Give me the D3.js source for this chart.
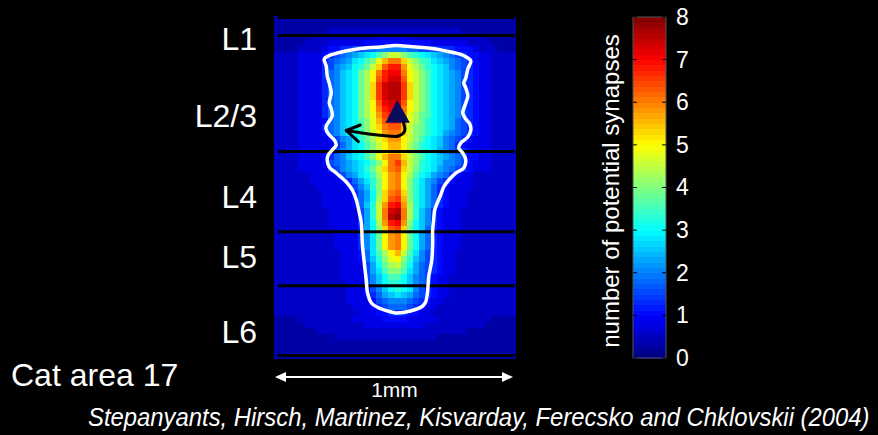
<!DOCTYPE html>
<html>
<head>
<meta charset="utf-8">
<script src="https://cdnjs.cloudflare.com/ajax/libs/d3/7.8.5/d3.min.js"></script>
<style>
body { margin: 0; background: #000; }
svg { display: block; }
text { font-family: "Liberation Sans", Arial, sans-serif; fill: #fff; }
</style>
</head>
<body>
<svg id="chart" width="878" height="435"></svg>
<script>
// each char is one cell, value = index in levelChars / 4  (0 .. 8 potential synapses)
var levelChars = "0123456789abcdefghijklmnopqrstuvw";

// 40 columns x 57 rows, one row = 0.025 mm of depth
var densityRows = [
    "1111111111111111111111111111111111111111",
    "1111111111111111111111111111111111111111",
    "1111111112222222222222222222222111111111",
    "1111112222222222233333322222222222211111",
    "1111122223333334444444444433333322221111",
    "1111222234455667788888776665554443222111",
    "22223333" + "456789abcegi" + "igedcba98765" + "44332222",
    "22223333" + "56789bcegjmo" + "oligedba9876" + "54332222",
    "22223333" + "5689acdfilpr" + "rnjhfdcba876" + "54332222",
    "22223333" + "578abcfhkors" + "sokigecba986" + "54332222",
    "22223333" + "578abcfhkprt" + "tpkigecba986" + "54332222",
    "22223333" + "578abcfhlqtu" + "uqligecba986" + "54332222",
    "22223333" + "578abcfhlqtu" + "uqligecba986" + "54332222",
    "22223333" + "578abcfhlqtu" + "uqligecba986" + "54332222",
    "22223333" + "578abcfhkpst" + "tpkigecba986" + "54332222",
    "22223333" + "578abcfhkors" + "sokigecba986" + "54332222",
    "22223333" + "578abcfhjnqr" + "rnjhfecba986" + "54332222",
    "22223333" + "478abcegjmpq" + "qmjhfdcba976" + "54332222",
    "22223333" + "578abcegjlop" + "pmigfdcba976" + "54332222",
    "22223333" + "478abcegikno" + "oligfdcb9876" + "54332222",
    "22223333" + "34689bdfhjln" + "nkigecba8765" + "43332222",
    "22223333" + "33579bcegikm" + "mkhfdcba8754" + "33332222",
    "22223333" + "34689bcegikm" + "mkhfdcb98765" + "43332222",
    "22223333" + "4578abcegjmo" + "oligecba9876" + "44332222",
    "22223333" + "46789abcegko" + "qmigdcba8876" + "43332222",
    "22223333" + "35689abdfilo" + "plifdcb98765" + "43332222",
    "22222233" + "334689bcehkn" + "okhecb987543" + "32222222",
    "22222233" + "3334579bdgkn" + "okgdb9865433" + "32222222",
    "22222223" + "3333468adgkn" + "okgdb9754333" + "32222222",
    "22222222" + "33333579cglo" + "plgdb9754333" + "22222222",
    "22222222" + "33333479chlp" + "qmgdb9754333" + "22222222",
    "22222222" + "3333347adinr" + "snhdb9754333" + "22222222",
    "22222222" + "23333369diot" + "uohda8543332" + "22222222",
    "22222222" + "23333369diou" + "vohda8543332" + "22222222",
    "22222222" + "23333359chnr" + "sngca8543332" + "22222222",
    "22222222" + "22333359cglp" + "qlfca7543332" + "22222222",
    "22222222" + "22333358bfkn" + "okfc97543332" + "22222222",
    "22222222" + "22333358bfkn" + "okfc97543332" + "22222222",
    "22222222" + "22333358bfkn" + "okfc97543332" + "22222222",
    "22222222" + "22233347behk" + "mieb86543322" + "22222222",
    "22222222" + "22233347adgj" + "kgda86543322" + "22222222",
    "22222222" + "222333369cfh" + "ifc976543322" + "22222222",
    "22222222" + "222333369beg" + "geb976543322" + "22222222",
    "22222222" + "222333368ace" + "eca876433222" + "22222222",
    "22222222" + "222233368acd" + "dca876433222" + "22222222",
    "22222222" + "2222333468ac" + "dcb865433222" + "22222222",
    "22222222" + "22223334579a" + "ba9765433222" + "22222222",
    "22222222" + "222233334678" + "887654332222" + "22222222",
    "22222222" + "222223334567" + "776543322222" + "22222222",
    "22222222" + "222222333445" + "554433222222" + "22222222",
    "1111222222222333334444333332222222221111",
    "1111122222222223333333333222222222211111",
    "1111111222222222222222222222222211111111",
    "1111111111222222222222222221111111111111",
    "1111111111111111111111111111111111111111",
    "1111111111111111111111111111111111111111",
    "1111111111111111111111111111111111111111"
];

// white outline of the dendritic field, [x mm, depth mm]
var outline = [
    [0.2083, 0.1792], [0.2250, 0.1667], [0.2625, 0.1542], [0.3458, 0.1375], [0.4417, 0.1292],
    [0.5042, 0.1229], [0.5375, 0.1250], [0.5875, 0.1292], [0.6208, 0.1313], [0.6708, 0.1375],
    [0.7042, 0.1438], [0.7542, 0.1542], [0.7750, 0.1604], [0.8042, 0.1750], [0.8167, 0.1875],
    [0.8042, 0.2208], [0.7958, 0.2583], [0.7875, 0.2792], [0.7958, 0.3000], [0.8042, 0.3333],
    [0.7958, 0.3625], [0.7833, 0.4042], [0.7958, 0.4292], [0.8125, 0.4500], [0.8167, 0.4750],
    [0.8042, 0.5042], [0.7750, 0.5292], [0.7667, 0.5500], [0.7833, 0.5708], [0.7958, 0.6000],
    [0.7875, 0.6333], [0.7542, 0.6542], [0.7250, 0.6833], [0.7042, 0.7125], [0.6917, 0.7458],
    [0.6792, 0.7750], [0.6667, 0.8083], [0.6625, 0.8500], [0.6583, 0.8917], [0.6583, 0.9500],
    [0.6542, 1.0208], [0.6417, 1.0875], [0.6375, 1.1458], [0.6292, 1.1917], [0.6167, 1.2083],
    [0.5667, 1.2292], [0.5042, 1.2375], [0.4875, 1.2333], [0.4458, 1.2208], [0.4042, 1.1958],
    [0.3875, 1.1500], [0.3833, 1.1042], [0.3750, 1.0333], [0.3667, 0.9500], [0.3625, 0.8625],
    [0.3542, 0.8208], [0.3417, 0.7667], [0.3250, 0.7250], [0.3000, 0.6917], [0.2583, 0.6542],
    [0.2292, 0.6292], [0.2208, 0.6000], [0.2250, 0.5792], [0.2417, 0.5583], [0.2583, 0.5375],
    [0.2500, 0.5167], [0.2292, 0.4958], [0.2167, 0.4750], [0.2167, 0.4583], [0.2292, 0.4375],
    [0.2417, 0.4167], [0.2375, 0.3875], [0.2292, 0.3625], [0.2375, 0.3208], [0.2292, 0.2792],
    [0.2208, 0.2500], [0.2167, 0.2083]
];

var layerBounds = [0.006, 0.081, 0.565, 0.899, 1.124, 1.415];
var layerNames = ["L1", "L2/3", "L4", "L5", "L6"];
var layerLabelDepth = [0.092, 0.4125, 0.75, 1.0, 1.3125];

// soma and axon arrow
var soma = [[0.511, 0.350], [0.4625, 0.4446], [0.5638, 0.4446]];
var axonPath = [[0.300, 0.4771], [0.379, 0.4896], [0.454, 0.4979], [0.517, 0.5000], [0.542, 0.4792], [0.5375, 0.4458]];
var axonHead = [[0.358, 0.4542], [0.300, 0.4771], [0.350, 0.5236]];

var colorTicks = [0, 1, 2, 3, 4, 5, 6, 7, 8];
var nColors = 64;

var svg = d3.select("#chart");
svg.append("rect").attr("width", 878).attr("height", 435).attr("fill", "#000");

var x = d3.scaleLinear().domain([0, 1]).range([274, 515]);
var y = d3.scaleLinear().domain([0, 1.425]).range([16, 358]);
var cell = 0.025;

function clamp(v) { return Math.max(0, Math.min(1, v)); }
function jet(t) {
    var k = Math.min(nColors - 1, Math.max(0, Math.floor(t * nColors)));
    var s = (k + 0.5) / nColors;
    return d3.rgb(255 * clamp(1.5 - Math.abs(4 * s - 3)),
                  255 * clamp(1.5 - Math.abs(4 * s - 2)),
                  255 * clamp(1.5 - Math.abs(4 * s - 1))) + "";
}

var cells = [];
densityRows.forEach(function(row, r) {
    if (row.length != 40) throw new Error("row " + r + " has " + row.length + " cells");
    for (var c = 0; c < row.length; c++) {
        cells.push({ c: c, r: r, v: levelChars.indexOf(row[c]) / 4 });
    }
});
if (densityRows.length != 57) throw new Error("rows: " + densityRows.length);

// heat map
svg.append("g")
    .attr("shape-rendering", "crispEdges")
  .selectAll("rect")
    .data(cells)
  .enter().append("rect")
    .attr("x", function(d) { return x(d.c * cell); })
    .attr("y", function(d) { return y(d.r * cell); })
    .attr("width", x(cell) - x(0) + 0.5)
    .attr("height", y(cell) - y(0) + 0.5)
    .attr("fill", function(d) { return jet(d.v / 8); });

// layer boundaries
svg.append("g").selectAll("line")
    .data(layerBounds)
  .enter().append("line")
    .attr("x1", x(0.017)).attr("x2", x(1))
    .attr("y1", function(d) { return y(d); })
    .attr("y2", function(d) { return y(d); })
    .attr("stroke", "#000")
    .attr("stroke-width", 3);

// outline
svg.append("path")
    .datum(outline)
    .attr("d", d3.line()
        .x(function(d) { return x(d[0]); })
        .y(function(d) { return y(d[1]); })
        .curve(d3.curveCatmullRomClosed))
    .attr("fill", "none")
    .attr("stroke", "#fff")
    .attr("stroke-width", 3.5);

// soma + axon
svg.append("polygon")
    .attr("points", soma.map(function(d) { return x(d[0]) + "," + y(d[1]); }).join(" "))
    .attr("fill", "#0b0b5e");

var pxLine = d3.line()
    .x(function(d) { return x(d[0]); })
    .y(function(d) { return y(d[1]); });

svg.append("path")
    .datum(axonPath)
    .attr("d", pxLine.curve(d3.curveCatmullRom))
    .attr("fill", "none")
    .attr("stroke", "#000")
    .attr("stroke-width", 3)
    .attr("stroke-linecap", "round");

svg.append("path")
    .datum(axonHead)
    .attr("d", d3.line().x(function(d) { return x(d[0]); }).y(function(d) { return y(d[1]); }))
    .attr("fill", "none")
    .attr("stroke", "#000")
    .attr("stroke-width", 3)
    .attr("stroke-linecap", "round")
    .attr("stroke-linejoin", "round");

// layer labels
svg.append("g").selectAll("text")
    .data(layerNames)
  .enter().append("text")
    .attr("x", 257)
    .attr("y", function(d, i) { return y(layerLabelDepth[i]); })
    .attr("dy", "0.36em")
    .attr("text-anchor", "end")
    .attr("font-size", 32)
    .text(function(d) { return d; });

svg.append("text")
    .attr("x", 11).attr("y", 386)
    .attr("font-size", 32)
    .text("Cat area 17");

// scale bar
var barY = 377;
svg.append("line")
    .attr("x1", x(0) + 8).attr("x2", x(1) - 8)
    .attr("y1", barY).attr("y2", barY)
    .attr("stroke", "#fff").attr("stroke-width", 2);
svg.append("polygon")
    .attr("points", [[x(0) + 1, barY], [x(0) + 12, barY - 5], [x(0) + 12, barY + 5]].join(" "))
    .attr("fill", "#fff");
svg.append("polygon")
    .attr("points", [[x(1) - 2, barY], [x(1) - 13, barY - 5], [x(1) - 13, barY + 5]].join(" "))
    .attr("fill", "#fff");
svg.append("text")
    .attr("x", x(0.5)).attr("y", 397)
    .attr("text-anchor", "middle")
    .attr("font-size", 21)
    .text("1mm");

// colour bar
var cy = d3.scaleLinear().domain([0, 8]).range([358, 17]);
var cbX = 633, cbW = 33;
var steps = d3.range(nColors);
svg.append("g")
    .attr("shape-rendering", "crispEdges")
  .selectAll("rect")
    .data(steps)
  .enter().append("rect")
    .attr("x", cbX)
    .attr("width", cbW)
    .attr("y", function(k) { return cy((k + 1) * 8 / nColors); })
    .attr("height", function(k) { return cy(k * 8 / nColors) - cy((k + 1) * 8 / nColors) + 0.5; })
    .attr("fill", function(k) { return jet((k + 0.5) / nColors); });

svg.append("rect")
    .attr("x", cbX).attr("y", cy(8))
    .attr("width", cbW).attr("height", cy(0) - cy(8))
    .attr("fill", "none").attr("stroke", "#555").attr("stroke-width", 1);

var tickG = svg.append("g");
tickG.selectAll("line.l")
    .data(colorTicks)
  .enter().append("line")
    .attr("x1", cbX).attr("x2", cbX + 4)
    .attr("y1", function(d) { return cy(d); }).attr("y2", function(d) { return cy(d); })
    .attr("stroke", "#000");
tickG.selectAll("line.r")
    .data(colorTicks)
  .enter().append("line")
    .attr("x1", cbX + cbW - 4).attr("x2", cbX + cbW)
    .attr("y1", function(d) { return cy(d); }).attr("y2", function(d) { return cy(d); })
    .attr("stroke", "#000");

var axis = svg.append("g")
    .attr("transform", "translate(" + (cbX + cbW) + ",0)")
    .call(d3.axisRight(cy).tickValues(colorTicks).tickSize(0).tickPadding(10).tickFormat(d3.format("d")));
axis.select(".domain").remove();
axis.selectAll("text")
    .attr("fill", "#fff")
    .attr("font-size", 23)
    .attr("font-family", "Liberation Sans, Arial, sans-serif");

svg.append("text")
    .attr("transform", "translate(619,191) rotate(-90)")
    .attr("text-anchor", "middle")
    .attr("font-size", 24)
    .text("number of potential synapses");

// citation, squeezed horizontally to the narrow look of the original
var cite = svg.append("g");
var citeText = cite.append("text")
    .attr("x", 0).attr("y", 0)
    .attr("font-size", 25)
    .attr("font-style", "italic")
    .style("font-family", "'Liberation Sans Narrow', 'Arial Narrow', 'Liberation Sans', sans-serif")
    .text("Stepanyants, Hirsch, Martinez, Kisvarday, Ferecsko and Chklovskii (2004)");
var citeW = citeText.node().getComputedTextLength();
cite.attr("transform", "translate(88,426) scale(" + (782 / citeW) + ",1)");
</script>
</body>
</html>
